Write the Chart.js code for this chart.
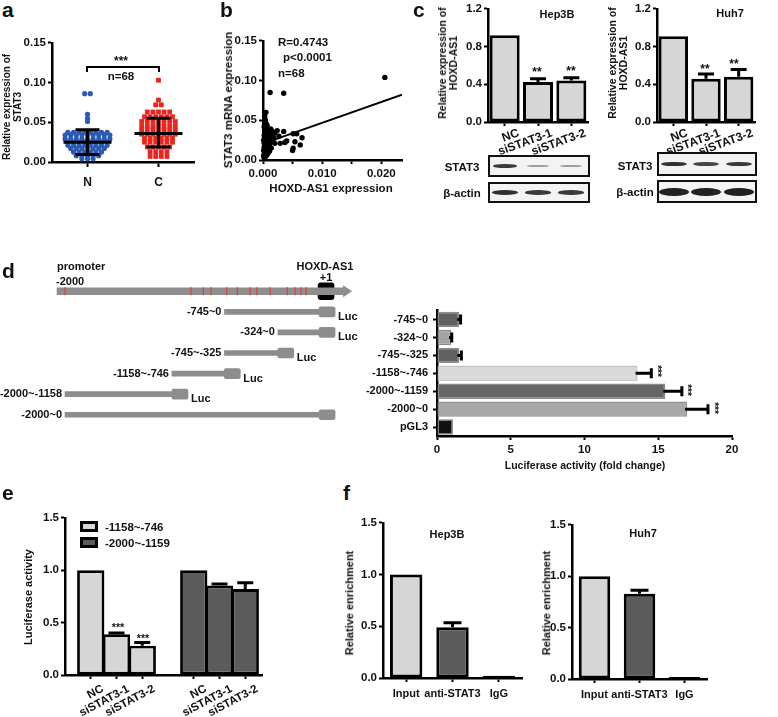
<!DOCTYPE html>
<html lang="en">
<head>
<meta charset="UTF-8" />
<title>HOXD-AS1 and STAT3</title>
<script src="https://cdn.jsdelivr.net/npm/chart.js"></script>
<style>
  body { margin: 0; background: #fff; width: 778px; height: 717px; position: relative; overflow: hidden;
         font-family: "Liberation Sans", Arial, sans-serif; font-weight: bold; color: #111; }
  canvas { position: absolute; }
  .t { position: absolute; white-space: nowrap; font-size: 11px; line-height: 1.05; text-align: center; }
  .letter { position: absolute; font-size: 21px; line-height: 1; }
  .blot { position: absolute; border: 2px solid #111; background: #f3f3f3; box-sizing: border-box; }
  .band { position: absolute; border-radius: 50%; filter: blur(0.7px); }
  .box { position: absolute; border: 3px solid #000; box-sizing: border-box; }
</style>
</head>
<body>
<script>
// ---- a: STAT3 in normal (N) vs cancer (C) tissue
const groupLabels = ['N', 'C'];
const normalStat3 = [0.086, 0.086, 0.060, 0.055, 0.051,
  0.0375, 0.0375, 0.0375, 0.0375, 0.0375, 0.0375, 0.0375, 0.0375,
  0.034, 0.034, 0.034, 0.034, 0.034, 0.034, 0.034, 0.034, 0.034,
  0.029, 0.029, 0.029, 0.029, 0.029, 0.029, 0.029, 0.029, 0.029,
  0.025, 0.025, 0.025, 0.025, 0.025, 0.025, 0.025, 0.025,
  0.021, 0.021, 0.021, 0.021, 0.021, 0.021, 0.021, 0.021,
  0.017, 0.017, 0.017, 0.017, 0.017, 0.017, 0.017,
  0.0125, 0.0125, 0.0125, 0.0125, 0.0125, 0.0125,
  0.008, 0.008, 0.008, 0.008, 0.008,
  0.004, 0.004, 0.004];
const cancerStat3 = [0.103, 0.078, 0.072, 0.072,
  0.063, 0.063, 0.063, 0.063, 0.063,
  0.057, 0.057, 0.057, 0.057, 0.057, 0.057,
  0.051, 0.051, 0.051, 0.051, 0.051, 0.051, 0.051,
  0.045, 0.045, 0.045, 0.045, 0.045, 0.045, 0.045,
  0.040, 0.040, 0.040, 0.040, 0.040, 0.040, 0.040,
  0.035, 0.035, 0.035, 0.035, 0.035, 0.035, 0.035,
  0.030, 0.030, 0.030, 0.030, 0.030, 0.030,
  0.025, 0.025, 0.025, 0.025, 0.025, 0.025,
  0.019, 0.019, 0.019, 0.019, 0.019,
  0.013, 0.013, 0.013, 0.013,
  0.007, 0.007, 0.007, 0.007];
const groupMeans = [0.025, 0.036];
const groupSdLow = [0.0095, 0.019];
const groupSdHigh = [0.0405, 0.055];
const stat3Ticks = [0, 0.05, 0.10, 0.15];

// ---- b: correlation
const hoxdStat3Pairs = [
  [0.0206, 0.104], [0.0012, 0.085], [0.0035, 0.084], [0.0005, 0.060], [0.0003, 0.055], [0.0004, 0.050], [0.0006, 0.045],
  [0.0015, 0.037], [0.0024, 0.037], [0.0035, 0.036], [0.0051, 0.033], [0.0057, 0.033], [0.0066, 0.028], [0.0054, 0.023],
  [0.0063, 0.019], [0.0051, 0.015], [0.0050, 0.012], [0.0040, 0.024], [0.0037, 0.022], [0.0029, 0.021], [0.0020, 0.021],
  [0.0027, 0.030], [0.0018, 0.028],
  [0.0002, 0.042], [0.0004, 0.040], [0.0008, 0.038], [0.0003, 0.036], [0.0010, 0.035], [0.0006, 0.033], [0.0013, 0.032],
  [0.0002, 0.031], [0.0009, 0.030], [0.0005, 0.029], [0.0012, 0.028], [0.0003, 0.027], [0.0007, 0.026], [0.0015, 0.026],
  [0.0001, 0.025], [0.0010, 0.024], [0.0005, 0.023], [0.0013, 0.022], [0.0002, 0.021], [0.0008, 0.020], [0.0004, 0.019],
  [0.0011, 0.018], [0.0006, 0.017], [0.0002, 0.016], [0.0009, 0.015], [0.0014, 0.015], [0.0004, 0.014], [0.0007, 0.013],
  [0.0001, 0.012], [0.0011, 0.011], [0.0005, 0.010], [0.0003, 0.009], [0.0008, 0.008], [0.0002, 0.007], [0.0006, 0.006],
  [0.0001, 0.005], [0.0004, 0.004], [0.0002, 0.003], [0.0009, 0.027], [0.0016, 0.031], [0.0020, 0.034], [0.0013, 0.039],
  [0.0007, 0.043], [0.0003, 0.047], [0.0017, 0.024]];
const regSlope = 2.63;
const regIntercept = 0.0205;
const regRange = [0.0005, 0.0235];
const hoxdTicks = [0, 0.005, 0.010, 0.015, 0.020];

// ---- c: HOXD-AS1 after STAT3 knockdown
const knockdownLabels = ['NC', 'siSTAT3-1', 'siSTAT3-2'];
const hep3bHoxd = [0.92, 0.425, 0.44];
const hep3bHoxdErr = [0, 0.035, 0.03];
const huh7Hoxd = [0.91, 0.46, 0.48];
const huh7HoxdErr = [0, 0.05, 0.077];
const expressionTicks = [0, 0.4, 0.8, 1.2];
// relative band intensity (0..1) per lane
const hep3bStat3Band = [0.85, 0.3, 0.3];
const hep3bActinBand = [0.9, 0.85, 0.85];
const huh7Stat3Band = [0.9, 0.8, 0.85];
const huh7ActinBand = [1, 1, 1];

// ---- d: promoter constructs
const promoterSpan = [-2063, 189];
const tssBox = [-8, 118];
const lucSpan = 126;
const bindingSites = [-2000, -1008, -911, -850, -727, -643, -543, -490, -386, -250, -189, -142, -102];
const fragmentNames = ['-745~0', '-324~0', '-745~-325', '-1158~-746', '-2000~-1158', '-2000~0'];
const fragmentSpans = [[-745, 0], [-324, 0], [-745, -325], [-1158, -746], [-2000, -1158], [-2000, 0]];
const fragmentHasLuc = [true, true, true, true, true, false];
const lucConstructs = ['-745~0', '-324~0', '-745~-325', '-1158~-746', '-2000~-1159', '-2000~0', 'pGL3'];
const lucFold = [1.51, 0.95, 1.51, 13.6, 15.48, 16.95, 1.08];
const lucFoldErr = [0.09, 0.05, 0.14, 0.93, 1.12, 1.42, 0];
const foldTicks = [0, 5, 10, 15, 20];

// ---- e: luciferase after knockdown
const eLegend = ['-1158~-746', '-2000~-1159'];
const eLightPos = [1, 2, 3];
const eDarkPos = [5, 6, 7];
const eLight = [1.0, 0.39, 0.28];
const eLightErr = [0, 0.012, 0.03];
const eDark = [1.0, 0.855, 0.82];
const eDarkErr = [0, 0.015, 0.06];
const eTickLabels = ['NC', 'siSTAT3-1', 'siSTAT3-2', 'NC', 'siSTAT3-1', 'siSTAT3-2'];
const lucTicks = [0, 0.5, 1.0, 1.5];

// ---- f: ChIP
const chipLabels = ['Input', 'anti-STAT3', 'IgG'];
const hep3bChip = [1.0, 0.49, 0.022];
const hep3bChipErr = [0, 0.045, 0];
const huh7Chip = [1.0, 0.83, 0.02];
const huh7ChipErr = [0, 0.035, 0];

Chart.defaults.font.family = '"Liberation Sans", Arial, sans-serif';
Chart.defaults.font.size = 11;
Chart.defaults.font.weight = 'bold';
Chart.defaults.color = '#111';
Chart.defaults.animation = false;
Chart.defaults.responsive = false;
Chart.defaults.devicePixelRatio = 1;
Chart.defaults.plugins.legend.display = false;
Chart.defaults.plugins.tooltip.enabled = false;

const LIGHT = '#d6d6d6', DARK = '#5b5b5b';

function put(html, x, y, o = {}) {
  const d = document.createElement('div');
  d.className = 't';
  d.innerHTML = html;
  d.style.left = x + 'px';
  d.style.top = y + 'px';
  if (o.size) d.style.fontSize = o.size + 'px';
  if (o.weight) d.style.fontWeight = o.weight;
  const tx = o.left ? '0' : '-50%';
  d.style.transform = `translate(${tx},-50%)` + (o.rot ? ` rotate(${o.rot}deg)` : '');
  document.body.appendChild(d);
  return d;
}

function letter(ch, x, y) {
  const d = document.createElement('div');
  d.className = 'letter';
  d.textContent = ch;
  d.style.left = x + 'px';
  d.style.top = y + 'px';
  document.body.appendChild(d);
}

// canvas placed so its chart area lands on `area` = [left, top, right, bottom]
function makeChart(area, pad, config) {
  const [x0, y0, x1, y1] = area;
  const c = document.createElement('canvas');
  const w = x1 - x0 + pad.yw + pad.l + pad.r;
  const h = y1 - y0 + pad.t + pad.b + pad.xh;
  c.width = w; c.height = h;
  c.style.left = (x0 - pad.yw - pad.l) + 'px';
  c.style.top = (y0 - pad.t) + 'px';
  document.body.appendChild(c);
  const o = config.options = config.options || {};
  o.layout = { padding: { left: pad.l, top: pad.t, right: pad.r, bottom: pad.b } };
  const sc = o.scales || {};
  if (sc.x && sc.x.display !== false) sc.x.afterFit = s => { s.height = pad.xh; };
  if (sc.y && sc.y.display !== false) sc.y.afterFit = s => { s.width = pad.yw; };
  return new Chart(c, config);
}

function linAxis(min, max, tickValues, fmt, opt = {}) {
  return {
    type: 'linear', min, max, offset: false,
    afterBuildTicks: s => { s.ticks = tickValues.map(v => ({ value: v })); },
    ticks: { callback: fmt, padding: opt.pad ?? 2, autoSkip: false, labelOffset: opt.shift ?? 0,
             maxRotation: opt.rot ?? 0, minRotation: opt.rot ?? 0, font: { size: opt.size ?? 11.5 } },
    grid: { offset: false, drawOnChartArea: false, tickLength: opt.tickLen ?? 4, tickWidth: 2, tickColor: '#000' },
    border: { color: '#000', width: 2.5 }
  };
}

function catAxis(opt = {}) {
  return {
    type: 'category', offset: true,
    ticks: { padding: opt.pad ?? 2, autoSkip: false, labelOffset: opt.shift ?? 0,
             maxRotation: opt.rot ?? 0, minRotation: opt.rot ?? 0, font: { size: opt.size ?? 11.5 } },
    grid: { offset: false, drawOnChartArea: false, tickLength: 4, tickWidth: 2, tickColor: '#000' },
    border: { color: '#000', width: 2.5 }
  };
}

// one-sided (upper) error bars, GraphPad style
const errorBarPlugin = {
  id: 'errorBars',
  afterDatasetsDraw(chart, args, opts) {
    const ctx = chart.ctx;
    const horiz = chart.options.indexAxis === 'y';
    const cap = opts.cap || 8;
    chart.data.datasets.forEach((ds, i) => {
      if (!ds.errorBars) return;
      const meta = chart.getDatasetMeta(i);
      const vScale = horiz ? chart.scales.x : chart.scales.y;
      meta.data.forEach((bar, j) => {
        const e = ds.errorBars[j];
        if (!e) return;
        const v = meta.controller.getParsed(j)[vScale.axis];
        const end = vScale.getPixelForValue(v + e);
        ctx.save();
        ctx.strokeStyle = '#000';
        ctx.lineWidth = 3;
        ctx.beginPath();
        if (horiz) {
          ctx.moveTo(bar.x - 2, bar.y); ctx.lineTo(end, bar.y);
          ctx.moveTo(end, bar.y - cap); ctx.lineTo(end, bar.y + cap);
        } else {
          ctx.moveTo(bar.x, bar.y); ctx.lineTo(bar.x, end);
          ctx.moveTo(bar.x - cap, end); ctx.lineTo(bar.x + cap, end);
        }
        ctx.stroke();
        ctx.restore();
      });
    });
  }
};

// mean and SD bars over the dot plot
const meanSdPlugin = {
  id: 'meanSd',
  afterDatasetsDraw(chart) {
    const { x, y } = chart.scales;
    const ctx = chart.ctx;
    ctx.save();
    ctx.strokeStyle = '#000';
    ctx.lineWidth = 3;
    groupMeans.forEach((m, i) => {
      const cx = x.getPixelForValue(i + 1);
      const pm = y.getPixelForValue(m), lo = y.getPixelForValue(groupSdLow[i]), hi = y.getPixelForValue(groupSdHigh[i]);
      ctx.beginPath();
      ctx.moveTo(cx - 24, pm); ctx.lineTo(cx + 24, pm);
      ctx.moveTo(cx, lo); ctx.lineTo(cx, hi);
      ctx.moveTo(cx - 12, lo); ctx.lineTo(cx + 12, lo);
      ctx.moveTo(cx - 12, hi); ctx.lineTo(cx + 12, hi);
      ctx.stroke();
    });
    ctx.restore();
  }
};

// readings that share a value are laid out side by side in one row
function swarm(values, centre, pxPerUnit, gap) {
  const rows = new Map();
  values.forEach(v => { if (!rows.has(v)) rows.set(v, []); rows.get(v).push(v); });
  const pts = [];
  rows.forEach(row => row.forEach((v, k) => {
    pts.push({ x: centre + (k - (row.length - 1) / 2) * gap / pxPerUnit, y: v });
  }));
  return pts;
}

// ================= a =================
letter('a', 2, -1);
makeChart([52, 42, 194, 162], { l: 0, t: 8, r: 8, b: 2, yw: 36, xh: 26 }, {
  type: 'scatter',
  data: { datasets: [
    { data: swarm(normalStat3, 1, 71, 5.6), pointStyle: 'circle', radius: 2.6, backgroundColor: '#2b59b3', borderWidth: 0, clip: false },
    { data: swarm(cancerStat3, 2, 71, 5.6), pointStyle: 'rect', radius: 3.4, backgroundColor: '#e8261e', borderWidth: 0, clip: false }
  ] },
  options: { scales: {
    x: linAxis(0.5, 2.5, [1, 2], (v, i) => groupLabels[i], { pad: 8, size: 12, tickLen: 5 }),
    y: linAxis(0, 0.15, stat3Ticks, v => v.toFixed(2))
  } },
  plugins: [meanSdPlugin]
});
put('Relative expression of<br>STAT3', 12, 107, { rot: -90, size: 10 });
const bracket = document.createElement('div');
Object.assign(bracket.style, { position: 'absolute', left: '86px', top: '66px', width: '70px', height: '4px',
  border: '2px solid #000', borderBottom: 'none' });
document.body.appendChild(bracket);
put('***', 121, 61, { size: 12 });
put('n=68', 121, 76, { size: 11.5 });

// ================= b =================
letter('b', 220, -1);
makeChart([263, 40, 402, 160], { l: 0, t: 8, r: 14, b: 2, yw: 38, xh: 26 }, {
  type: 'scatter',
  data: { datasets: [
    { data: hoxdStat3Pairs.map(p => ({ x: p[0], y: p[1] })), radius: 2.7, backgroundColor: '#000', borderWidth: 0, clip: false },
    { data: regRange.map(x => ({ x, y: regIntercept + regSlope * x })), showLine: true, borderColor: '#000', borderWidth: 2, radius: 0 }
  ] },
  options: { scales: {
    x: linAxis(0, 0.0235, hoxdTicks, v => (Math.abs(v * 100 - Math.round(v * 100)) < 1e-6 ? v.toFixed(3) : ''), { pad: 3 }),
    y: linAxis(0, 0.15, stat3Ticks, v => v.toFixed(2))
  } }
});
put('STAT3 mRNA expression', 228, 100, { rot: -90, size: 11.5 });
put('HOXD-AS1 expression', 331, 188, { size: 11.5 });
put('R=0.4743', 278, 42, { left: true, size: 11.5 });
put('p&lt;0.0001', 283, 57, { left: true, size: 11.5 });
put('n=68', 278, 73, { left: true, size: 11.5 });

// ================= c =================
letter('c', 413, -1);
function knockdownChart(area, values, errors) {
  makeChart(area, { l: 0, t: 7, r: 22, b: 2, yw: 32, xh: 40 }, {
    type: 'bar',
    data: { labels: knockdownLabels, datasets: [{ data: values, errorBars: errors, backgroundColor: LIGHT,
      borderColor: '#000', borderWidth: 3, borderSkipped: false, barPercentage: 0.9, categoryPercentage: 1 }] },
    options: { scales: { x: catAxis({ rot: 20, pad: 0, size: 12, shift: 14 }), y: linAxis(0, 1.2, expressionTicks, v => v.toFixed(1)) },
               plugins: { errorBars: { cap: 8 } } },
    plugins: [errorBarPlugin]
  });
}
knockdownChart([488, 7, 588, 122], hep3bHoxd, hep3bHoxdErr);
knockdownChart([657, 7, 755, 122], huh7Hoxd, huh7HoxdErr);
put('Relative expression of<br>HOXD-AS1', 448, 63, { rot: -90, size: 10.5 });
put('Relative expression of<br>HOXD-AS1', 618, 63, { rot: -90, size: 10.5 });
put('Hep3B', 557, 15);
put('Huh7', 730, 14);
put('**', 537, 72, { size: 12 });
put('**', 571, 71, { size: 12 });
put('**', 705, 69, { size: 12 });
put('**', 734, 64, { size: 12 });

function blot(x, y, w, h, lanes, intensity, bandH, bandW) {
  const b = document.createElement('div');
  b.className = 'blot';
  Object.assign(b.style, { left: x + 'px', top: y + 'px', width: w + 'px', height: h + 'px' });
  document.body.appendChild(b);
  lanes.forEach((cx, i) => {
    const k = intensity[i];
    const d = document.createElement('div');
    d.className = 'band';
    const bw = bandW * (0.85 + 0.15 * k), bh = bandH * (0.6 + 0.4 * k);
    Object.assign(d.style, { left: (cx - x - 2 - bw / 2) + 'px', top: (h / 2 - 2 - bh / 2) + 'px',
      width: bw + 'px', height: bh + 'px', background: `rgba(20,20,20,${0.15 + 0.8 * k})` });
    b.appendChild(d);
  });
}
blot(488, 155, 102, 22, [505, 538, 571], hep3bStat3Band, 4, 24);
blot(488, 182, 102, 21, [505, 538, 571], hep3bActinBand, 5, 26);
blot(657, 152, 100, 24, [674, 706, 739], huh7Stat3Band, 5, 27);
blot(657, 180, 100, 23, [674, 706, 739], huh7ActinBand, 8, 30);
put('STAT3', 462, 167, { size: 11.5 });
put('β-actin', 462, 193, { size: 11.5 });
put('STAT3', 635, 166, { size: 11.5 });
put('β-actin', 635, 192, { size: 11.5 });

// ================= d =================
letter('d', 2, 260);
const diagramPlugin = {
  id: 'diagram',
  afterDatasetsDraw(chart) {
    const { x, y } = chart.scales;
    const ctx = chart.ctx;
    const py = y.getPixelForValue(0);
    ctx.save();
    ctx.fillStyle = '#8d8d8d';
    const ex = x.getPixelForValue(promoterSpan[1]);
    ctx.beginPath(); ctx.moveTo(ex, py - 6); ctx.lineTo(ex + 9, py); ctx.lineTo(ex, py + 6); ctx.fill();
    ctx.strokeStyle = '#d9423f';
    ctx.lineWidth = 1.3;
    bindingSites.forEach(s => {
      const px = x.getPixelForValue(s);
      ctx.beginPath(); ctx.moveTo(px, py - 4); ctx.lineTo(px, py + 4); ctx.stroke();
    });
    ctx.font = 'bold 11px "Liberation Sans", Arial, sans-serif';
    ctx.fillStyle = '#111';
    ctx.textBaseline = 'middle';
    fragmentNames.forEach((name, i) => {
      const [s, e] = fragmentSpans[i];
      const ry = y.getPixelForValue(i + 1);
      ctx.textAlign = 'right';
      ctx.fillText(name, x.getPixelForValue(s) - 3, ry);
      if (fragmentHasLuc[i]) {
        ctx.textAlign = 'left';
        ctx.fillText('Luc', x.getPixelForValue(e + lucSpan) + 3, ry + 5);
      }
    });
    ctx.restore();
  }
};
const noFrag = fragmentNames.map(() => null);
makeChart([0, 281, 370, 425], { l: 0, t: 0, r: 0, b: 0, yw: 0, xh: 0 }, {
  type: 'bar',
  data: { labels: ['promoter'].concat(fragmentNames), datasets: [
    { data: [promoterSpan].concat(noFrag), backgroundColor: '#8d8d8d', barThickness: 7, grouped: false },
    { data: [null].concat(fragmentSpans), backgroundColor: '#8d8d8d', barThickness: 5, grouped: false },
    { data: [null].concat(fragmentSpans.map(s => [s[1], s[1] + lucSpan])), backgroundColor: '#8d8d8d',
      barThickness: 10, borderRadius: 2, borderSkipped: false, grouped: false },
    { data: [tssBox].concat(noFrag), backgroundColor: '#000', barThickness: 17, borderRadius: 3, borderSkipped: false, grouped: false }
  ] },
  options: { indexAxis: 'y', scales: { x: { type: 'linear', min: -2512, max: 401, display: false }, y: { display: false } } },
  plugins: [diagramPlugin]
});
put('promoter', 57, 267, { left: true });
put('-2000', 56, 282, { left: true });
put('HOXD-AS1', 325, 267);
put('+1', 326, 278);

makeChart([437, 305, 732, 436], { l: 0, t: 6, r: 10, b: 2, yw: 76, xh: 24 }, {
  type: 'bar',
  data: { labels: lucConstructs, datasets: [{ data: lucFold, errorBars: lucFoldErr,
    backgroundColor: ['#606060', '#a3a3a3', '#606060', '#d9d9d9', '#666666', '#a8a8a8', '#111111'],
    borderColor: ['#8a8a8a', '#8a8a8a', '#8a8a8a', '#c4c4c4', '#8a8a8a', '#909090', '#808080'],
    borderWidth: 1.5, borderSkipped: false, barPercentage: 0.86, categoryPercentage: 1 }] },
  options: { indexAxis: 'y',
    scales: { x: linAxis(0, 20, foldTicks, v => v, { pad: 3 }), y: catAxis({ pad: 5, size: 11 }) },
    plugins: { errorBars: { cap: 5 } } },
  plugins: [errorBarPlugin]
});
put('Luciferase activity (fold change)', 585, 466, { size: 10.5 });
put('***', 657, 371, { rot: 90, size: 10 });
put('***', 687, 390, { rot: 90, size: 10 });
put('***', 714, 408, { rot: 90, size: 10 });

// ================= e =================
letter('e', 2, 482);
makeChart([65, 516, 262, 675], { l: 0, t: 7, r: 14, b: 2, yw: 30, xh: 42 }, {
  type: 'bar',
  data: { datasets: [
    { label: eLegend[0], data: eLightPos.map((x, i) => ({ x, y: eLight[i] })), errorBars: eLightErr,
      backgroundColor: LIGHT, borderColor: '#000', borderWidth: 2.8, borderSkipped: false,
      barPercentage: 1.06, categoryPercentage: 1, grouped: false },
    { label: eLegend[1], data: eDarkPos.map((x, i) => ({ x, y: eDark[i] })), errorBars: eDarkErr,
      backgroundColor: DARK, borderColor: '#000', borderWidth: 2.8, borderSkipped: false,
      barPercentage: 1.06, categoryPercentage: 1, grouped: false }
  ] },
  options: { scales: {
      x: linAxis(0, 7.65, eLightPos.concat(eDarkPos), (v, i) => eTickLabels[i], { rot: 28, pad: 3, size: 11.5, shift: 12 }),
      y: linAxis(0, 1.5, lucTicks, v => v.toFixed(1))
    },
    plugins: { errorBars: { cap: 8 } } },
  plugins: [errorBarPlugin]
});
put('Luciferase activity', 29, 597, { rot: -90, size: 11 });
put('***', 118, 628, { size: 10.5 });
put('***', 143, 639, { size: 10.5 });
[[LIGHT, 521], [DARK, 537]].forEach(([col, y], i) => {
  const b = document.createElement('div');
  b.className = 'box';
  Object.assign(b.style, { left: '80px', top: y + 'px', width: '18px', height: '11px', background: col });
  document.body.appendChild(b);
  put(eLegend[i], 105, y + 5.5, { left: true, size: 11.5 });
});

// ================= f =================
letter('f', 343, 482);
function chipChart(area, values, errors) {
  makeChart(area, { l: 0, t: 7, r: 8, b: 2, yw: 30, xh: 24 }, {
    type: 'bar',
    data: { labels: chipLabels, datasets: [{ data: values, errorBars: errors, backgroundColor: [LIGHT, DARK, DARK],
      borderColor: '#000', borderWidth: 3, borderSkipped: false, barPercentage: 0.7, categoryPercentage: 1 }] },
    options: { scales: { x: catAxis({ pad: 5, size: 11 }), y: linAxis(0, 1.5, lucTicks, v => v.toFixed(1)) },
               plugins: { errorBars: { cap: 9 } } },
    plugins: [errorBarPlugin]
  });
}
chipChart([383, 521, 522, 678], hep3bChip, hep3bChipErr);
chipChart([572, 523, 707, 679], huh7Chip, huh7ChipErr);
put('Hep3B', 447, 535);
put('Huh7', 643, 534);
put('Relative enrichment', 350, 603, { rot: -90, size: 11 });
put('Relative enrichment', 547, 603, { rot: -90, size: 11 });
</script>
</body>
</html>
